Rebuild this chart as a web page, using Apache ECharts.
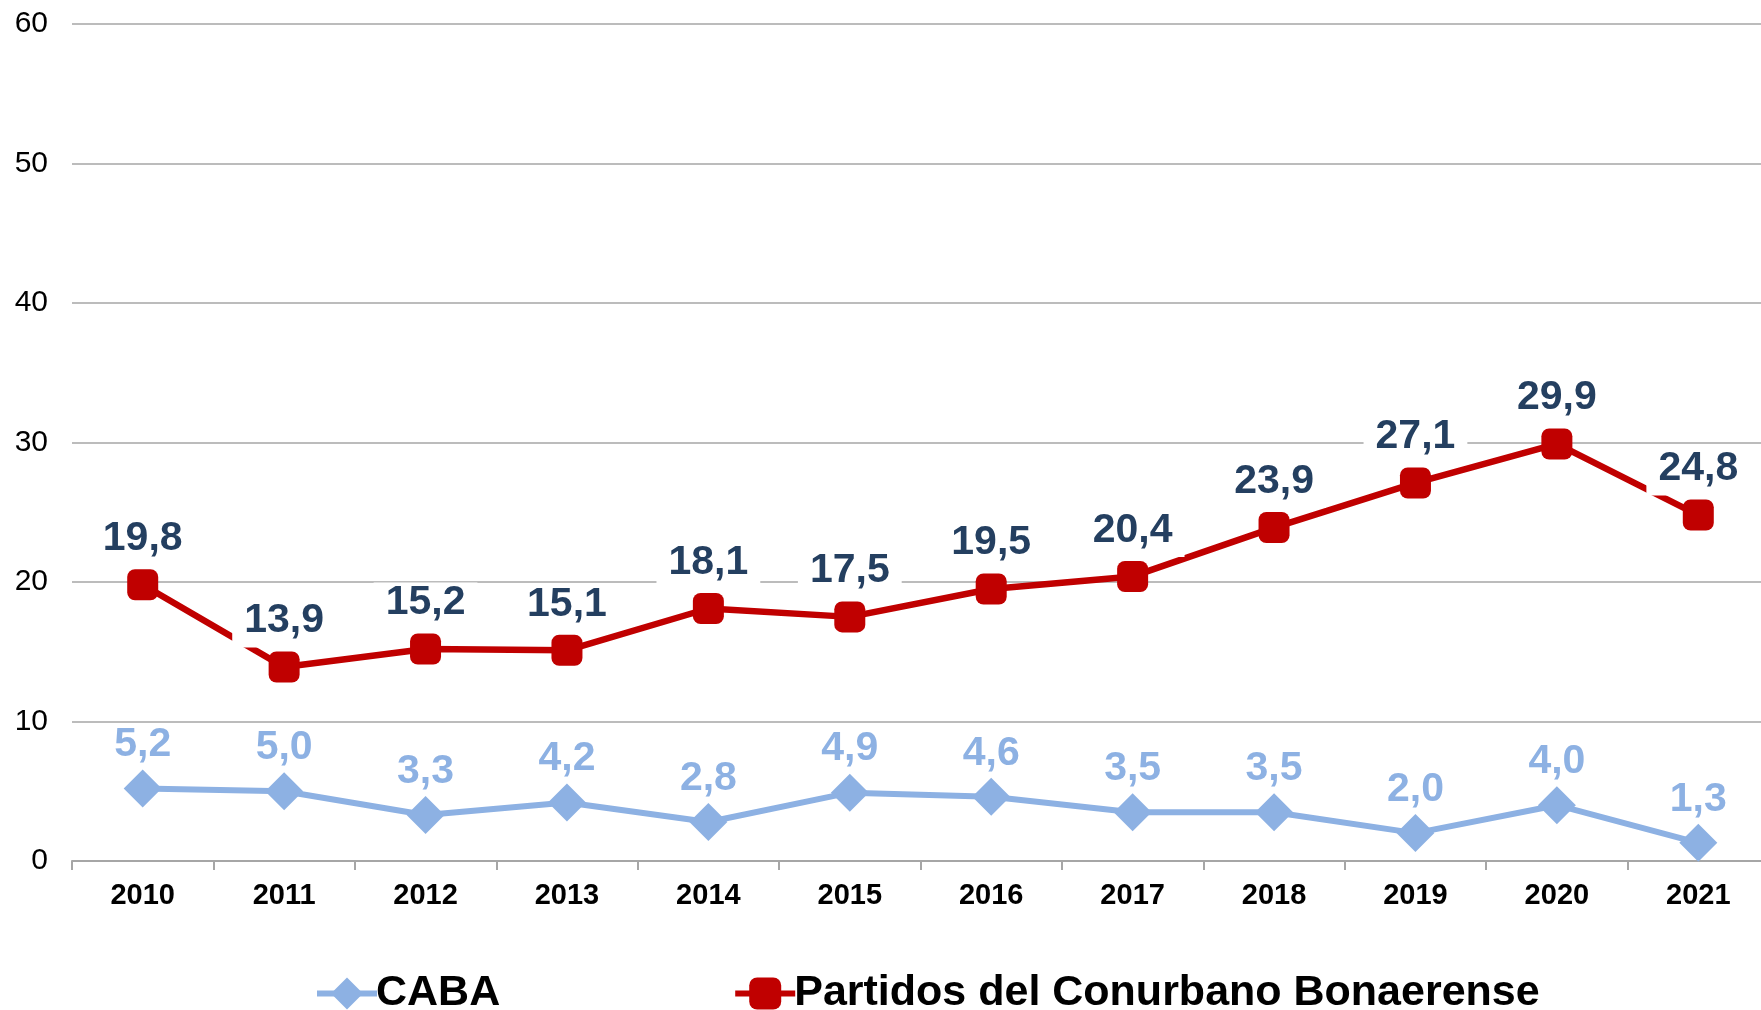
<!DOCTYPE html>
<html>
<head>
<meta charset="utf-8">
<script src="https://cdn.jsdelivr.net/npm/echarts@6/dist/echarts.min.js"></script>
<style>
  html, body { margin: 0; padding: 0; background: #fff; overflow: hidden; }
  #box { width: 1769px; height: 1010px; }
</style>
</head>
<body>
<div id="box"></div>
<script>
// valores
const years = ["2010", "2011", "2012", "2013", "2014", "2015", "2016", "2017", "2018", "2019", "2020", "2021"];
const caba = [5.2, 5.0, 3.3, 4.2, 2.8, 4.9, 4.6, 3.5, 3.5, 2.0, 4.0, 1.3];
const conurbano = [19.8, 13.9, 15.2, 15.1, 18.1, 17.5, 19.5, 20.4, 23.9, 27.1, 29.9, 24.8];

const fmt = p => p.value.toFixed(1).replace(".", ",");

// el gráfico original queda algo cortado a la derecha
const myChart = echarts.init(document.getElementById("box"));
const option = {
  animation: false,
  textStyle: { fontFamily: "Liberation Sans, Arial, sans-serif" },
  grid: { left: 72, right: 0, top: 24, bottom: 149 },
  legend: {
    left: 309,
    top: 967,
    itemGap: 232,
    itemWidth: 60,
    itemHeight: 40,
    lineStyle: { width: 6 },
    textStyle: { fontSize: 43, fontWeight: "bold", color: "#000", padding: [0, 0, 0, -6] },
    data: ["CABA", "Partidos del Conurbano Bonaerense"]
  },
  xAxis: {
    type: "category",
    data: years,
    boundaryGap: true,
    axisLine: { lineStyle: { color: "#A6A6A6", width: 2 } },
    axisTick: { show: true, length: 9, lineStyle: { color: "#A6A6A6", width: 2 } },
    axisLabel: { fontSize: 29, fontWeight: "bold", color: "#000", margin: 20 }
  },
  yAxis: {
    type: "value",
    min: 0,
    max: 60,
    interval: 10,
    axisLine: { show: false },
    axisTick: { show: false },
    axisLabel: { fontSize: 30, color: "#000", margin: 24 },
    splitLine: { lineStyle: { color: "#A6A6A6", width: 1.5 } }
  },
  series: [
    {
      name: "CABA",
      type: "line",
      data: caba,
      symbol: "diamond",
      symbolSize: 38,
      itemStyle: { color: "#8DB1E3" },
      lineStyle: { color: "#8DB1E3", width: 6 },
      label: {
        show: true,
        position: "top",
        distance: 4,
        formatter: fmt,
        fontSize: 41,
        fontWeight: "bold",
        color: "#8DB1E3",
        backgroundColor: "#fff",
        padding: [0, 12, 0, 12]
      }
    },
    {
      name: "Partidos del Conurbano Bonaerense",
      type: "line",
      data: conurbano,
      symbol: "roundRect",
      symbolSize: 31,
      itemStyle: { color: "#C00000" },
      lineStyle: { color: "#C00000", width: 6.5 },
      label: {
        show: true,
        position: "top",
        distance: 4,
        formatter: fmt,
        fontSize: 41,
        fontWeight: "bold",
        color: "#243F60",
        backgroundColor: "#fff",
        padding: [0, 12, 6, 12]
      }
    }
  ]
};
myChart.setOption(option);
</script>
</body>
</html>
